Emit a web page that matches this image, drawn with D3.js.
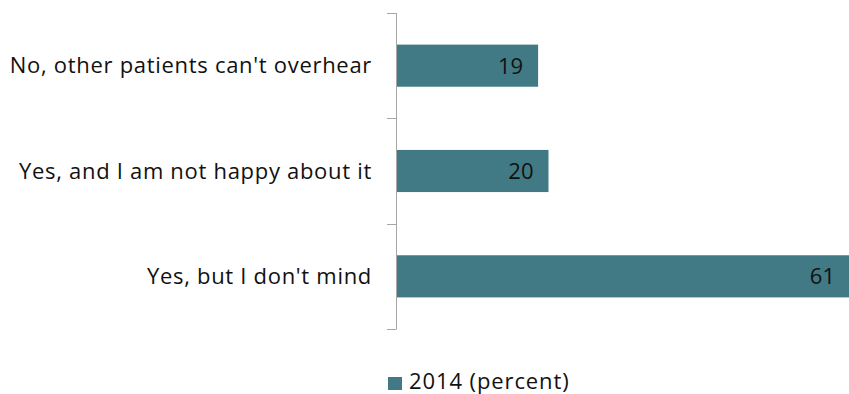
<!DOCTYPE html>
<html>
<head>
<meta charset="utf-8">
<script src="https://cdn.jsdelivr.net/npm/d3@7"></script>
<style>
  body { margin: 0; background: #fff; }
  svg { display: block; font-family: "Open Sans", sans-serif; }
</style>
</head>
<body>
<div id="chart"></div>
<script>
// categories top to bottom
var categories = ["No, other patients can't overhear", "Yes, and I am not happy about it", "Yes, but I don't mind"];
var values2014 = [19, 20.4, 61];
var seriesName = "2014 (percent)";
var barColor = "#417a84";

var W = 849, H = 394;
var margin = {top: 13, right: 0, bottom: 65, left: 396};
var width = W - margin.left - margin.right;
var height = H - margin.top - margin.bottom;

var svg = d3.select("#chart")
  .append("svg")
  .attr("width", W)
  .attr("height", H);

var g = svg.append("g")
  .attr("transform", "translate(" + margin.left + "," + margin.top + ")");

var x = d3.scaleLinear().domain([0, 61]).range([0, 453]);
var y = d3.scaleBand().domain(categories).range([0, height]).paddingInner(0.6).paddingOuter(0.3);

// category boundary ticks
var bounds = d3.range(categories.length + 1).map(function(i) { return i * height / categories.length; });

g.append("line")
  .attr("x1", 0.5).attr("x2", 0.5)
  .attr("y1", 0).attr("y2", height)
  .attr("stroke", "#a6a6a6").attr("stroke-width", 1);

g.selectAll("line.tick")
  .data(bounds)
  .enter().append("line")
  .attr("class", "tick")
  .attr("x1", -9).attr("x2", 0.5)
  .attr("y1", function(d) { return Math.round(d) + 0.5; })
  .attr("y2", function(d) { return Math.round(d) + 0.5; })
  .attr("stroke", "#a6a6a6").attr("stroke-width", 1);

// bars
g.selectAll("rect.bar")
  .data(values2014)
  .enter().append("rect")
  .attr("class", "bar")
  .attr("x", 1)
  .attr("y", function(d, i) { return y(categories[i]); })
  .attr("width", function(d) { return x(d); })
  .attr("height", y.bandwidth())
  .attr("fill", barColor);

// value labels
g.selectAll("text.val")
  .data(values2014)
  .enter().append("text")
  .attr("class", "val")
  .attr("x", function(d) { return x(d) - 14; })
  .attr("y", function(d, i) { return y(categories[i]) + y.bandwidth() / 2 + 8; })
  .attr("text-anchor", "end")
  .attr("font-size", "22px")
  .attr("fill", "#111")
  .text(function(d) { return d3.format(".0f")(d); });

// category labels
g.selectAll("text.cat")
  .data(categories)
  .enter().append("text")
  .attr("class", "cat")
  .attr("x", -24)
  .attr("y", function(d) { return y(d) + y.bandwidth() / 2 + 7.5; })
  .attr("text-anchor", "end")
  .attr("font-size", "22px")
  .attr("letter-spacing", "0.7px")
  .attr("fill", "#111")
  .text(function(d) { return d; });

// legend
var legend = svg.append("g").attr("transform", "translate(388,377)");
legend.append("rect")
  .attr("width", 14).attr("height", 13)
  .attr("fill", barColor);
legend.append("text")
  .attr("x", 21).attr("y", 12)
  .attr("font-size", "22px")
  .attr("letter-spacing", "0.9px")
  .attr("fill", "#111")
  .text(seriesName);
</script>
</body>
</html>
